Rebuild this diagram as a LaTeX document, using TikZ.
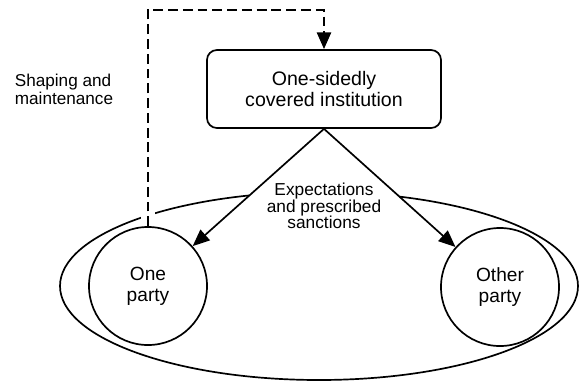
\documentclass[tikz,border=0pt]{standalone}
\usepackage{fontspec}
\setmainfont{Liberation Sans}
\usetikzlibrary{arrows.meta,positioning,calc}
\tikzset{
  institution/.style={
    draw=black,
    rounded corners=0.25cm,
    line width=1.2pt,
    fill=white,
    minimum width=5.85cm,
    minimum height=1.95cm,
    align=center,
    font=\fontsize{13.9}{15.6}\selectfont
  },
  party/.style={
    draw=black,
    circle,
    line width=1.2pt,
    fill=white,
    minimum size=2.95cm,
    align=center,
    font=\fontsize{13.6}{15}\selectfont
  },
  edge/.style={-{Triangle[length=12pt, width=10pt]}, line width=1.2pt},
  feedback/.style={-{Triangle[length=12pt, width=10pt]}, line width=1.9pt,
    dash pattern=on 7pt off 3.5pt,
    preaction={draw=white, line width=10pt, solid, -, shorten <=2pt, shorten >=12pt}},
  labelbox/.style={fill=white, inner xsep=13pt, inner ysep=1pt, align=center,
    font=\fontsize{12.3}{11.8}\selectfont},
  note/.style={align=left, font=\fontsize{12.2}{12.8}\selectfont},
  group/.style={line width=1.2pt}
}

\begin{document}
\begin{tikzpicture}[x=0.025cm, y=-0.025cm]
  \useasboundingbox (0,0) rectangle (579,383);

  % -------------------------------------------------------------------
  % both parties
  % -------------------------------------------------------------------
  \draw[group] (319,286) ellipse [x radius=259, y radius=94];
  \node[labelbox] (expect) at (324,206) {Expectations\\and prescribed\\sanctions};

  % -------------------------------------------------------------------
  % institution and parties
  % -------------------------------------------------------------------
  \node[institution] (inst) at (324,89) {One-sidedly\\covered institution};
  \node[party] (one) at (148,286) {One\\party};
  \node[party] (other) at (500,287) {Other\\party};
  \node[note] (shaping) at (64,89) {Shaping and\\maintenance};

  \draw[edge] (inst.south) -- (one);
  \draw[edge] (inst.south) -- (other);

  % -------------------------------------------------------------------
  % feedback loop
  % -------------------------------------------------------------------
  \coordinate (turn) at (148,10);
  \draw[feedback] (one.north) -- (turn) -| (inst.north);

\end{tikzpicture}
\end{document}
